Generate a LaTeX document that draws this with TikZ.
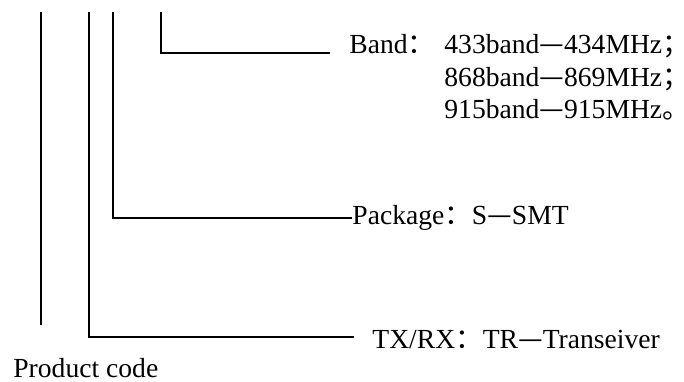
\documentclass[tikz,border=0pt]{standalone}
\usepackage{fontspec}
\setmainfont{Liberation Serif}
\newfontfamily\cjk{Noto Sans CJK SC}
\usetikzlibrary{positioning}
\newcommand{\fcolon}{{\cjk ：}}
\newcommand{\fsemi}{\makebox[0.45em][l]{\cjk ；}}
\newcommand{\fstop}{\makebox[0.45em][l]{\cjk 。}}
\newcommand{\fdash}{{\cjk —}}

\begin{document}
\begin{tikzpicture}[
  x=0.5pt,y=-0.5pt,
  lbl/.style={anchor=base west,inner sep=0pt,font=\fontsize{13.8}{16}\selectfont},
  lead/.style={line width=0.65pt}
]
\useasboundingbox (0,0) rectangle (684,381);
% tops of the code digits
\coordinate (t1) at (41,12);
\coordinate (t2) at (89,12);
\coordinate (t3) at (113,12);
\coordinate (t4) at (161,12);
\coordinate (b1) at (41,325);
% labels
\node[lbl] (band) at (349,53) {Band\fcolon};
\node[lbl] (f1) at (444,53) {433band\fdash 434MHz\fsemi};
\node[lbl] (f2) at (444,86) {868band\fdash 869MHz\fsemi};
\node[lbl] (f3) at (444,118) {915band\fdash 915MHz\fstop};
\node[lbl] (pkg) at (352,224) {Package\fcolon S\fdash SMT};
\node[lbl] (trx) at (372,348) {TX/RX\fcolon TR\fdash Transeiver};
\node[lbl] (code) at (13,377) {Product code};
\coordinate (e4) at (330,53);
\coordinate (e2) at (354,337);
% leaders
\draw[lead] (t4) |- (e4);
\draw[lead] (t3) |- (pkg.west |- 0,218);
\draw[lead] (t2) |- (e2);
\draw[lead] (t1) -- (b1);
\end{tikzpicture}
\end{document}
